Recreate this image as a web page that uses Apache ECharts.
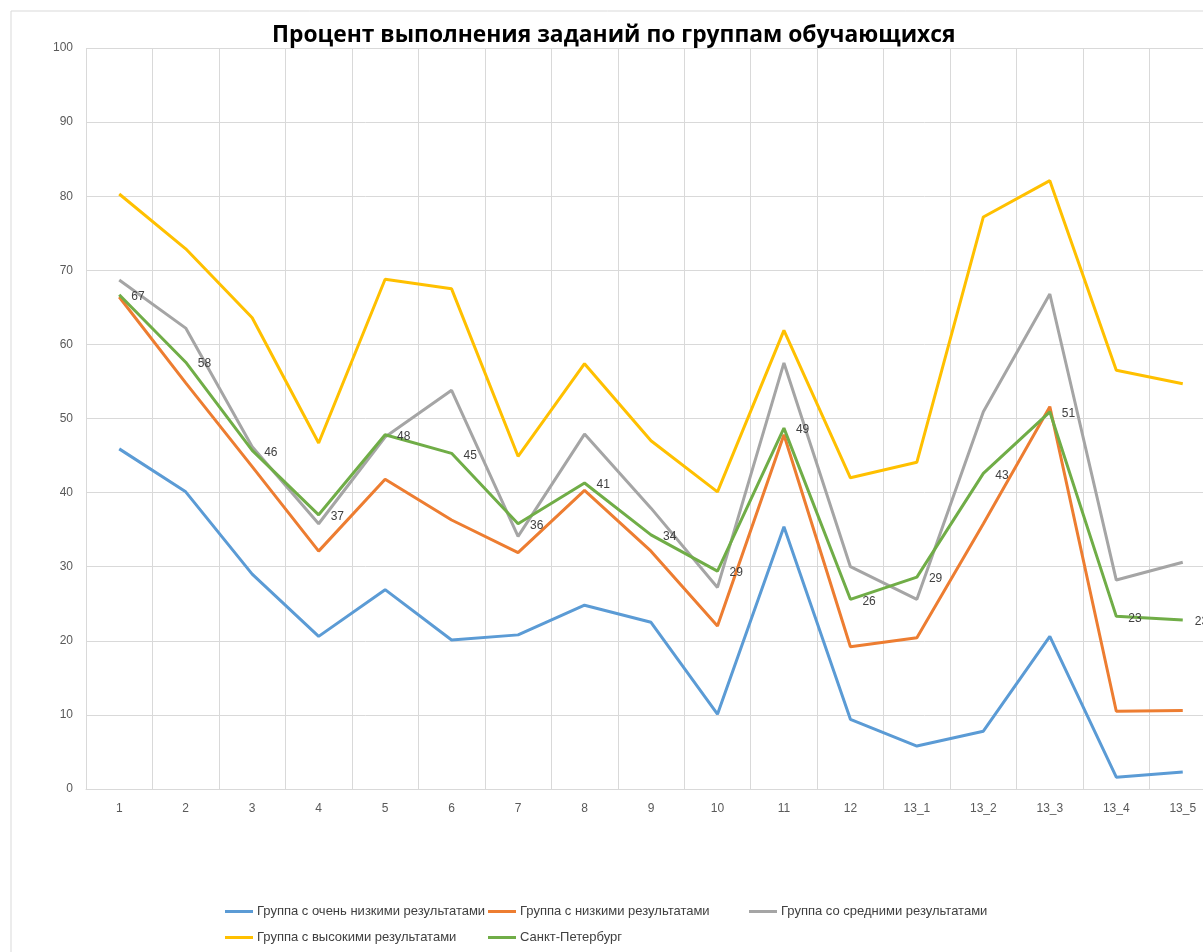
<!DOCTYPE html>
<html lang="ru">
<head>
    <meta charset="UTF-8">
    <title>Процент выполнения заданий</title>
    <script src="https://cdn.jsdelivr.net/npm/echarts@6/dist/echarts.min.js"></script>
    <style>
        html, body { margin: 0; padding: 0; background: #fff; }
        #chart { width: 1203px; height: 952px; }
    </style>
</head>
<body>
    <div id="chart"></div>
    <script>
        // задания
        var tasks = ['1', '2', '3', '4', '5', '6', '7', '8', '9', '10', '11', '12',
            '13_1', '13_2', '13_3', '13_4', '13_5'];

        var veryLow = [45.9, 40.1, 29.0, 20.6, 26.9, 20.1, 20.8, 24.8, 22.5, 10.1, 35.4, 9.4, 5.8, 7.8, 20.6, 1.6, 2.3];
        var low = [66.4, 54.8, 43.5, 32.1, 41.8, 36.3, 31.9, 40.3, 32.1, 22.0, 47.8, 19.2, 20.4, 35.8, 51.6, 10.5, 10.6];
        var middle = [68.7, 62.2, 46.2, 35.8, 47.5, 53.8, 34.1, 47.9, 37.9, 27.2, 57.5, 30.0, 25.6, 50.9, 66.8, 28.2, 30.6];
        var high = [80.3, 72.9, 63.6, 46.7, 68.8, 67.5, 44.9, 57.4, 47.0, 40.1, 61.9, 42.0, 44.1, 77.2, 82.1, 56.5, 54.7];
        var spb = [66.7, 57.6, 45.7, 37.0, 47.8, 45.3, 35.8, 41.3, 34.3, 29.4, 48.7, 25.6, 28.6, 42.6, 50.9, 23.3, 22.8];

        var seriesNames = ['Группа с очень низкими результатами', 'Группа с низкими результатами',
            'Группа со средними результатами', 'Группа с высокими результатами', 'Санкт-Петербург'];
        var seriesColors = ['#5B9BD5', '#ED7D31', '#A5A5A5', '#FFC000', '#70AD47'];
        var seriesData = [veryLow, low, middle, high, spb];

        var chart = echarts.init(document.getElementById('chart'));

        var series = [];
        for (var i = 0; i < seriesNames.length; i++) {
            var s = {
                name: seriesNames[i],
                type: 'line',
                data: seriesData[i],
                symbol: 'circle',
                symbolSize: 0,
                lineStyle: { width: 3, color: seriesColors[i] },
                itemStyle: { color: seriesColors[i] },
                z: 2 + i
            };
            if (i == 4) {
                // подписи только у Санкт-Петербурга
                s.label = {
                    show: true,
                    position: 'right',
                    distance: 12,
                    offset: [0, 2],
                    color: '#404040',
                    fontSize: 12,
                    fontFamily: 'Liberation Sans',
                    formatter: function (p) { return Math.round(p.value); }
                };
            }
            series.push(s);
        }

        // легенда раскладывается по колонкам, как в исходнике
        var legendPos = [[225, 905], [488, 905], [749, 905], [225, 931], [488, 931]];
        var legends = [];
        for (var k = 0; k < seriesNames.length; k++) {
            legends.push({
                data: [seriesNames[k]],
                left: legendPos[k][0],
                top: legendPos[k][1],
                itemWidth: 28,
                itemHeight: 3,
                itemGap: 0,
                padding: 0,
                icon: 'rect',
                textStyle: { color: '#404040', fontSize: 13, fontFamily: 'Liberation Sans', padding: [0, 0, 0, -1] }
            });
        }

        var option = {
            animation: false,
            backgroundColor: '#fff',
            title: {
                text: 'Процент выполнения заданий по группам обучающихся',
                left: 267,
                top: 19,
                textStyle: { fontSize: 22.8, fontWeight: 'bold', color: '#000', fontFamily: 'Open Sans' }
            },
            graphic: [{
                type: 'rect',
                shape: { x: 11, y: 11, width: 1400, height: 1100 },
                style: { fill: 'none', stroke: '#d9d9d9', lineWidth: 1 },
                silent: true
            }],
            legend: legends,
            grid: { left: 86, top: 48, width: 1130, bottom: 163, outerBoundsMode: 'none' },
            xAxis: {
                type: 'category',
                data: tasks,
                boundaryGap: true,
                axisLine: { lineStyle: { color: '#d9d9d9', width: 1 } },
                axisTick: { show: false },
                axisLabel: { color: '#595959', fontSize: 12, margin: 14, fontFamily: 'Liberation Sans' },
                splitLine: { show: true, lineStyle: { color: '#d9d9d9', width: 1 } }
            },
            yAxis: {
                type: 'value',
                min: 0,
                max: 100,
                interval: 10,
                axisLine: { show: false },
                axisTick: { show: false },
                axisLabel: { color: '#595959', fontSize: 12, margin: 13, fontFamily: 'Liberation Sans' },
                splitLine: { lineStyle: { color: '#d9d9d9', width: 1 } }
            },
            series: series
        };

        chart.setOption(option);
    </script>
</body>
</html>
